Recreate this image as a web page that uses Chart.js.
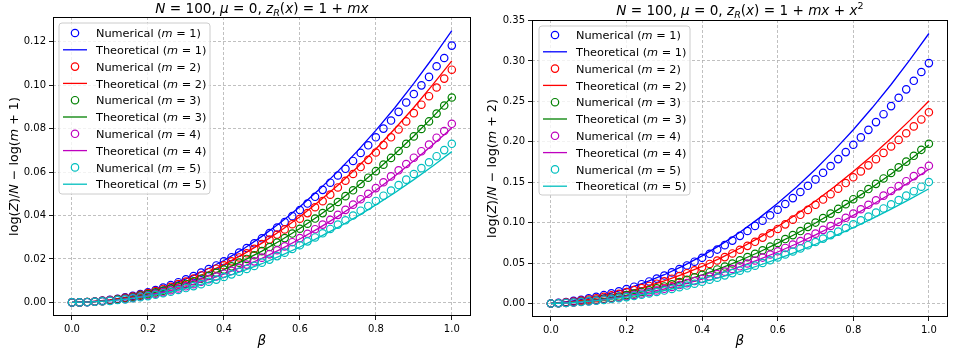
<!DOCTYPE html>
<html><head><meta charset="utf-8">
<script src="https://cdn.jsdelivr.net/npm/chart.js@4.4.1/dist/chart.umd.min.js"></script>
<style>
html,body{margin:0;padding:0;background:#fff;width:953px;height:353px;overflow:hidden}
canvas{position:absolute;top:0}
#c1{left:0}
#c2{left:476px}
</style></head><body>
<canvas id="c1" width="476" height="353" style="width:476px;height:353px"></canvas>
<canvas id="c2" width="477" height="353" style="width:477px;height:353px"></canvas>
<script>
// ---------- data ----------
const betaNum = [0,0.02,0.04,0.06,0.08,0.1,0.12,0.14,0.16,0.18,0.2,0.22,0.24,0.26,0.28,0.3,0.32,0.34,0.36,0.38,0.4,0.42,0.44,0.46,0.48,0.5,0.52,0.54,0.56,0.58,0.6,0.62,0.64,0.66,0.68,0.7,0.72,0.74,0.76,0.78,0.8,0.82,0.84,0.86,0.88,0.9,0.92,0.94,0.96,0.98,1];
const betaTheory = [0,0.05,0.1,0.15,0.2,0.25,0.3,0.35,0.4,0.45,0.5,0.55,0.6,0.65,0.7,0.75,0.8,0.85,0.9,0.95,1];
const mValues = [1,2,3,4,5];
const seriesColors = ['#0000ff','#ff0000','#008000','#bf00bf','#00bfbf'];

// left panel: z_R(x) = 1 + m x
const leftNumM1 = [0,0,0.0002,0.0004,0.0008,0.0012,0.0017,0.0023,0.003,0.0038,0.0047,0.0057,0.0068,0.008,0.0093,0.0106,0.0121,0.0137,0.0153,0.017,0.0189,0.0208,0.0229,0.025,0.0272,0.0295,0.0319,0.0344,0.037,0.0397,0.0425,0.0455,0.0486,0.0518,0.0551,0.0584,0.0615,0.0651,0.0688,0.0723,0.076,0.08,0.0837,0.0877,0.092,0.0959,0.0999,0.1038,0.1087,0.1125,0.1182];
const leftNumM2 = [0,0,0.0002,0.0004,0.0007,0.0011,0.0015,0.0021,0.0027,0.0035,0.0043,0.0052,0.0062,0.0072,0.0084,0.0096,0.011,0.0124,0.0139,0.0155,0.0171,0.0189,0.0207,0.0226,0.0247,0.0268,0.0289,0.0312,0.0336,0.036,0.0385,0.0411,0.0438,0.0466,0.0496,0.0529,0.056,0.0591,0.0623,0.0656,0.069,0.0724,0.076,0.0796,0.0833,0.0871,0.091,0.0949,0.0989,0.103,0.1071];
const leftNumM3 = [0,0,0.0002,0.0003,0.0006,0.0009,0.0014,0.0018,0.0024,0.0031,0.0038,0.0046,0.0054,0.0064,0.0074,0.0085,0.0097,0.0109,0.0122,0.0136,0.0151,0.0166,0.0183,0.02,0.0217,0.0236,0.0255,0.0275,0.0296,0.0317,0.0339,0.0362,0.0386,0.0411,0.0436,0.0462,0.0489,0.0516,0.0545,0.0574,0.0604,0.0634,0.0665,0.0697,0.073,0.0764,0.0798,0.0833,0.0869,0.0906,0.0943];
const leftNumM4 = [0,0,0.0001,0.0003,0.0005,0.0008,0.0012,0.0016,0.0021,0.0027,0.0033,0.004,0.0047,0.0056,0.0064,0.0074,0.0084,0.0095,0.0107,0.0119,0.0132,0.0145,0.0159,0.0174,0.0189,0.0206,0.0222,0.024,0.0258,0.0277,0.0296,0.0316,0.0337,0.0358,0.038,0.0403,0.0426,0.045,0.0475,0.05,0.0526,0.0553,0.058,0.0608,0.0637,0.0666,0.0696,0.0726,0.0758,0.0789,0.0822];
const leftNumM5 = [0,0,0.0001,0.0003,0.0005,0.0007,0.0011,0.0014,0.0019,0.0024,0.0029,0.0035,0.0042,0.0049,0.0057,0.0066,0.0075,0.0084,0.0095,0.0105,0.0117,0.0129,0.0141,0.0154,0.0168,0.0183,0.0197,0.0213,0.0229,0.0246,0.0263,0.0281,0.0299,0.0318,0.0338,0.0358,0.0378,0.04,0.0422,0.0444,0.0467,0.0491,0.0515,0.054,0.0565,0.0591,0.0618,0.0645,0.0673,0.0701,0.073];
const leftTheoM1 = [0,0.0003,0.0012,0.0027,0.0048,0.0075,0.0108,0.0148,0.0193,0.0245,0.0304,0.0369,0.044,0.0518,0.0603,0.0694,0.0792,0.0896,0.1008,0.1126,0.1251];
const leftTheoM2 = [0,0.0003,0.0011,0.0024,0.0043,0.0068,0.0097,0.0133,0.0174,0.0221,0.0273,0.0331,0.0394,0.0464,0.0539,0.062,0.0706,0.0799,0.0897,0.1002,0.1112];
const leftTheoM3 = [0,0.0002,0.0009,0.0021,0.0038,0.0059,0.0085,0.0116,0.0151,0.0191,0.0236,0.0286,0.034,0.0399,0.0463,0.0532,0.0605,0.0683,0.0766,0.0854,0.0946];
const leftTheoM4 = [0,0.0002,0.0008,0.0018,0.0033,0.0051,0.0073,0.01,0.013,0.0165,0.0203,0.0245,0.0292,0.0342,0.0396,0.0454,0.0516,0.0582,0.0652,0.0726,0.0803];
const leftTheoM5 = [0,0.0002,0.0007,0.0016,0.0029,0.0045,0.0065,0.0088,0.0115,0.0145,0.0178,0.0215,0.0255,0.0299,0.0345,0.0395,0.0449,0.0505,0.0565,0.0628,0.0694];

// right panel: z_R(x) = 1 + m x + x^2
const rightNumM1 = [0,0.0008,0.0019,0.0032,0.0046,0.0063,0.0082,0.0103,0.0126,0.0151,0.0178,0.0208,0.0239,0.0273,0.0308,0.0346,0.0385,0.0427,0.0471,0.0517,0.0565,0.0615,0.0667,0.0722,0.0778,0.0837,0.0897,0.096,0.1024,0.1091,0.116,0.1231,0.1304,0.1379,0.1456,0.1535,0.1617,0.17,0.1786,0.1873,0.1963,0.2055,0.2148,0.2244,0.2342,0.2442,0.2545,0.2649,0.2755,0.2864,0.2974];
const rightNumM2 = [0,0.0007,0.0015,0.0025,0.0037,0.005,0.0065,0.0082,0.01,0.012,0.0142,0.0165,0.019,0.0217,0.0245,0.0275,0.0307,0.034,0.0375,0.0411,0.0449,0.0489,0.0531,0.0574,0.0619,0.0665,0.0713,0.0763,0.0815,0.0868,0.0922,0.0979,0.1037,0.1097,0.1158,0.1221,0.1286,0.1352,0.142,0.149,0.1561,0.1634,0.1709,0.1785,0.1863,0.1942,0.2024,0.2106,0.2191,0.2277,0.2365];
const rightNumM3 = [0,0.0004,0.0009,0.0016,0.0024,0.0034,0.0045,0.0058,0.0072,0.0087,0.0104,0.0123,0.0143,0.0164,0.0187,0.0211,0.0237,0.0264,0.0292,0.0323,0.0354,0.0387,0.0421,0.0457,0.0495,0.0534,0.0574,0.0615,0.0659,0.0703,0.0749,0.0797,0.0846,0.0896,0.0948,0.1001,0.1056,0.1112,0.117,0.1229,0.129,0.1352,0.1416,0.148,0.1547,0.1615,0.1684,0.1755,0.1827,0.1901,0.1976];
const rightNumM4 = [0,0.0003,0.0008,0.0014,0.0021,0.0029,0.0039,0.005,0.0062,0.0075,0.009,0.0106,0.0123,0.0141,0.0161,0.0182,0.0204,0.0228,0.0252,0.0278,0.0305,0.0334,0.0363,0.0394,0.0427,0.046,0.0495,0.0531,0.0568,0.0606,0.0646,0.0687,0.0729,0.0773,0.0818,0.0864,0.0911,0.0959,0.1009,0.106,0.1112,0.1166,0.1221,0.1277,0.1334,0.1392,0.1452,0.1513,0.1576,0.1639,0.1704];
const rightNumM5 = [0,0.0003,0.0007,0.0012,0.0018,0.0026,0.0034,0.0044,0.0055,0.0066,0.0079,0.0093,0.0108,0.0125,0.0142,0.016,0.018,0.0201,0.0222,0.0245,0.0269,0.0294,0.032,0.0348,0.0376,0.0406,0.0436,0.0468,0.0501,0.0535,0.057,0.0606,0.0643,0.0681,0.0721,0.0761,0.0803,0.0846,0.0889,0.0934,0.098,0.1028,0.1076,0.1125,0.1176,0.1227,0.128,0.1334,0.1389,0.1445,0.1502];
const rightTheoM1 = [0,0.0025,0.0064,0.0116,0.0181,0.0261,0.0356,0.0465,0.0589,0.0728,0.0882,0.1053,0.1239,0.1442,0.1661,0.1897,0.215,0.2421,0.2709,0.3016,0.334];
const rightTheoM2 = [0,0.002,0.005,0.0091,0.0143,0.0206,0.0279,0.0363,0.0458,0.0565,0.0683,0.0812,0.0953,0.1105,0.1269,0.1445,0.1633,0.1832,0.2044,0.2268,0.2505];
const rightTheoM3 = [0,0.0012,0.0034,0.0065,0.0104,0.0153,0.0211,0.0277,0.0353,0.0438,0.0532,0.0634,0.0746,0.0866,0.0996,0.1134,0.1282,0.1438,0.1603,0.1777,0.196];
const rightTheoM4 = [0,0.0011,0.0029,0.0056,0.009,0.0131,0.0181,0.0238,0.0302,0.0375,0.0455,0.0542,0.0637,0.0739,0.0848,0.0965,0.109,0.1221,0.136,0.1507,0.166];
const rightTheoM5 = [0,0.0009,0.0026,0.0049,0.0079,0.0115,0.0158,0.0208,0.0264,0.0326,0.0395,0.047,0.0552,0.0639,0.0733,0.0833,0.0939,0.105,0.1168,0.1291,0.142];

// tick labels
const xTickValues = [0,0.2,0.4,0.6,0.8,1.0];
const leftYTickValues = [0,0.02,0.04,0.06,0.08,0.10,0.12];
const rightYTickValues = [0,0.05,0.10,0.15,0.20,0.25,0.30,0.35];

// ---------- helpers ----------
const FONT = '"DejaVu Sans", "Liberation Sans", sans-serif';
function segFont(s, size){
  const sz = (s.sub||s.sup) ? size*0.7 : size;
  return (s.i ? 'italic ' : '') + sz + 'px ' + FONT;
}
function richWidth(ctx, segs, size){
  let w = 0;
  for (const s of segs){ ctx.font = segFont(s,size); w += ctx.measureText(s.t).width; }
  return w;
}
function drawRich(ctx, segs, x, y, size, align){
  const w = richWidth(ctx, segs, size);
  let cx = align === 'center' ? x - w/2 : (align === 'right' ? x - w : x);
  ctx.textBaseline = 'alphabetic';
  ctx.textAlign = 'left';
  for (const s of segs){
    ctx.font = segFont(s,size);
    const dy = s.sub ? size*0.22 : (s.sup ? -size*0.42 : 0);
    ctx.fillText(s.t, cx, y + dy);
    cx += ctx.measureText(s.t).width;
  }
}

function makeDatasets(numArrs, theoArrs){
  const ds = [];
  let order = 20;
  mValues.forEach((m, i) => {
    ds.push({
      label: 'Numerical (m = ' + m + ')',
      data: betaNum.map((b, k) => ({x: b, y: numArrs[i][k]})),
      showLine: false,
      pointStyle: 'circle',
      pointRadius: 3.7,
      pointBorderWidth: 1.2,
      pointBorderColor: seriesColors[i],
      pointBackgroundColor: 'rgba(0,0,0,0)',
      borderColor: seriesColors[i],
      backgroundColor: 'rgba(0,0,0,0)',
      order: order--,
      kind: 'num'
    });
    ds.push({
      label: 'Theoretical (m = ' + m + ')',
      data: betaTheory.map((b, k) => ({x: b, y: theoArrs[i][k]})),
      showLine: true,
      pointRadius: 0,
      borderWidth: 1.3,
      borderColor: seriesColors[i],
      backgroundColor: 'rgba(0,0,0,0)',
      tension: 0,
      order: order--,
      kind: 'theo'
    });
  });
  return ds;
}

function panelPlugin(cfg){
  return {
    id: 'panel' + cfg.id,
    afterDatasetsDraw(chart){
      const ctx = chart.ctx;
      ctx.save();
      const L = cfg.legend;
      ctx.beginPath();
      const r = 3;
      ctx.moveTo(L.x + r, L.y);
      ctx.arcTo(L.x + L.w, L.y, L.x + L.w, L.y + L.h, r);
      ctx.arcTo(L.x + L.w, L.y + L.h, L.x, L.y + L.h, r);
      ctx.arcTo(L.x, L.y + L.h, L.x, L.y, r);
      ctx.arcTo(L.x, L.y, L.x + L.w, L.y, r);
      ctx.closePath();
      ctx.fillStyle = 'rgba(255,255,255,0.8)';
      ctx.fill();
      ctx.strokeStyle = '#cccccc';
      ctx.lineWidth = 1;
      ctx.stroke();
      chart.data.datasets.forEach((d, k) => {
        const yy = L.row0 + k * L.step;
        const col = d.borderColor;
        if (d.kind === 'num'){
          ctx.beginPath();
          ctx.arc(L.x + 16, yy, 3.7, 0, Math.PI*2);
          ctx.strokeStyle = col; ctx.lineWidth = 1.2; ctx.stroke();
        } else {
          ctx.beginPath();
          ctx.moveTo(L.x + 4, yy); ctx.lineTo(L.x + 28, yy);
          ctx.strokeStyle = col; ctx.lineWidth = 1.3; ctx.stroke();
        }
        ctx.fillStyle = '#000';
        const m = mValues[Math.floor(k/2)];
        const word = d.kind === 'num' ? 'Numerical (' : 'Theoretical (';
        drawRich(ctx, [{t: word}, {t: 'm', i: 1}, {t: ' = ' + m + ')'}], L.x + 37, yy + 4.2, 11.3, 'left');
      });
      ctx.restore();
    },
    afterDraw(chart){
      const ctx = chart.ctx, a = chart.chartArea;
      ctx.save();
      ctx.strokeStyle = '#000';
      ctx.lineWidth = 1;
      ctx.strokeRect(Math.round(a.left) + 0.5, Math.round(a.top) + 0.5, Math.round(a.right - a.left) - 1, Math.round(a.bottom - a.top) - 1);
      ctx.fillStyle = '#000';
      drawRich(ctx, cfg.title, (a.left + a.right)/2, cfg.titleY, 13.6, 'center');
      drawRich(ctx, [{t: 'β', i: 1}], (a.left + a.right)/2, cfg.xLabelY, 13.5, 'center');
      ctx.translate(cfg.yLabelX, (a.top + a.bottom)/2);
      ctx.rotate(-Math.PI/2);
      drawRich(ctx, cfg.yLabel, 0, 0, 12.7, 'center');
      ctx.restore();
    }
  };
}

function makeChart(canvasId, numArrs, theoArrs, yTicks, yMin, yMax, yDigits, layout, cfg){
  const ctx = document.getElementById(canvasId).getContext('2d');
  const gridCommon = {
    color: '#b0b0b0', lineWidth: 0.8, drawTicks: true, tickLength: 4,
    tickColor: '#000', tickWidth: 0.9, tickBorderDash: []
  };
  return new Chart(ctx, {
    type: 'scatter',
    data: { datasets: makeDatasets(numArrs, theoArrs) },
    options: {
      responsive: false, animation: false, devicePixelRatio: 1,
      layout: { padding: { left: 0, right: layout.padRight, top: layout.padTop, bottom: 0 } },
      plugins: { legend: { display: false }, tooltip: { enabled: false }, title: { display: false } },
      scales: {
        x: {
          type: 'linear', min: -0.05, max: 1.05,
          afterBuildTicks(s){ s.ticks = xTickValues.map(v => ({value: v})); },
          afterFit(s){ s.height = layout.xHeight; },
          ticks: { autoSkip: false, maxRotation: 0, padding: 3, color: '#000',
                   font: { family: FONT, size: 10 }, callback: v => Number(v).toFixed(1) },
          grid: gridCommon,
          border: { display: false, dash: [3, 2] }
        },
        y: {
          type: 'linear', min: yMin, max: yMax,
          afterBuildTicks(s){ s.ticks = yTicks.map(v => ({value: v})); },
          afterFit(s){ s.width = layout.yWidth; },
          ticks: { autoSkip: false, padding: 3, color: '#000',
                   font: { family: FONT, size: 10 }, callback: v => Number(v).toFixed(yDigits) },
          grid: gridCommon,
          border: { display: false, dash: [3, 2] }
        }
      }
    },
    plugins: [panelPlugin(cfg)]
  });
}

makeChart('c1',
  [leftNumM1, leftNumM2, leftNumM3, leftNumM4, leftNumM5],
  [leftTheoM1, leftTheoM2, leftTheoM3, leftTheoM4, leftTheoM5],
  leftYTickValues, -0.00626, 0.13136, 2,
  { padRight: 3, padTop: 17, xHeight: 37, yWidth: 53 },
  { id: 'L',
    title: [{t:'N',i:1},{t:' = 100, '},{t:'μ',i:1},{t:' = 0, '},{t:'z',i:1},{t:'R',i:1,sub:1},{t:'('},{t:'x',i:1},{t:') = 1 + '},{t:'mx',i:1}],
    titleY: 13, xLabelY: 345, yLabelX: 17.5,
    yLabel: [{t:'log('},{t:'Z',i:1},{t:')/'},{t:'N',i:1},{t:' − log('},{t:'m',i:1},{t:' + 1)'}],
    legend: { x: 59, y: 23, w: 151, h: 171, row0: 33, step: 16.8 }
  });

makeChart('c2',
  [rightNumM1, rightNumM2, rightNumM3, rightNumM4, rightNumM5],
  [rightTheoM1, rightTheoM2, rightTheoM3, rightTheoM4, rightTheoM5],
  rightYTickValues, -0.0167, 0.3507, 2,
  { padRight: 1, padTop: 20, xHeight: 36, yWidth: 56 },
  { id: 'R',
    title: [{t:'N',i:1},{t:' = 100, '},{t:'μ',i:1},{t:' = 0, '},{t:'z',i:1},{t:'R',i:1,sub:1},{t:'('},{t:'x',i:1},{t:') = 1 + '},{t:'mx',i:1},{t:' + '},{t:'x',i:1},{t:'2',sup:1}],
    titleY: 15, xLabelY: 345, yLabelX: 20,
    yLabel: [{t:'log('},{t:'Z',i:1},{t:')/'},{t:'N',i:1},{t:' − log('},{t:'m',i:1},{t:' + 2)'}],
    legend: { x: 63, y: 26, w: 151, h: 169, row0: 35, step: 16.8 }
  });
</script>
</body></html>
